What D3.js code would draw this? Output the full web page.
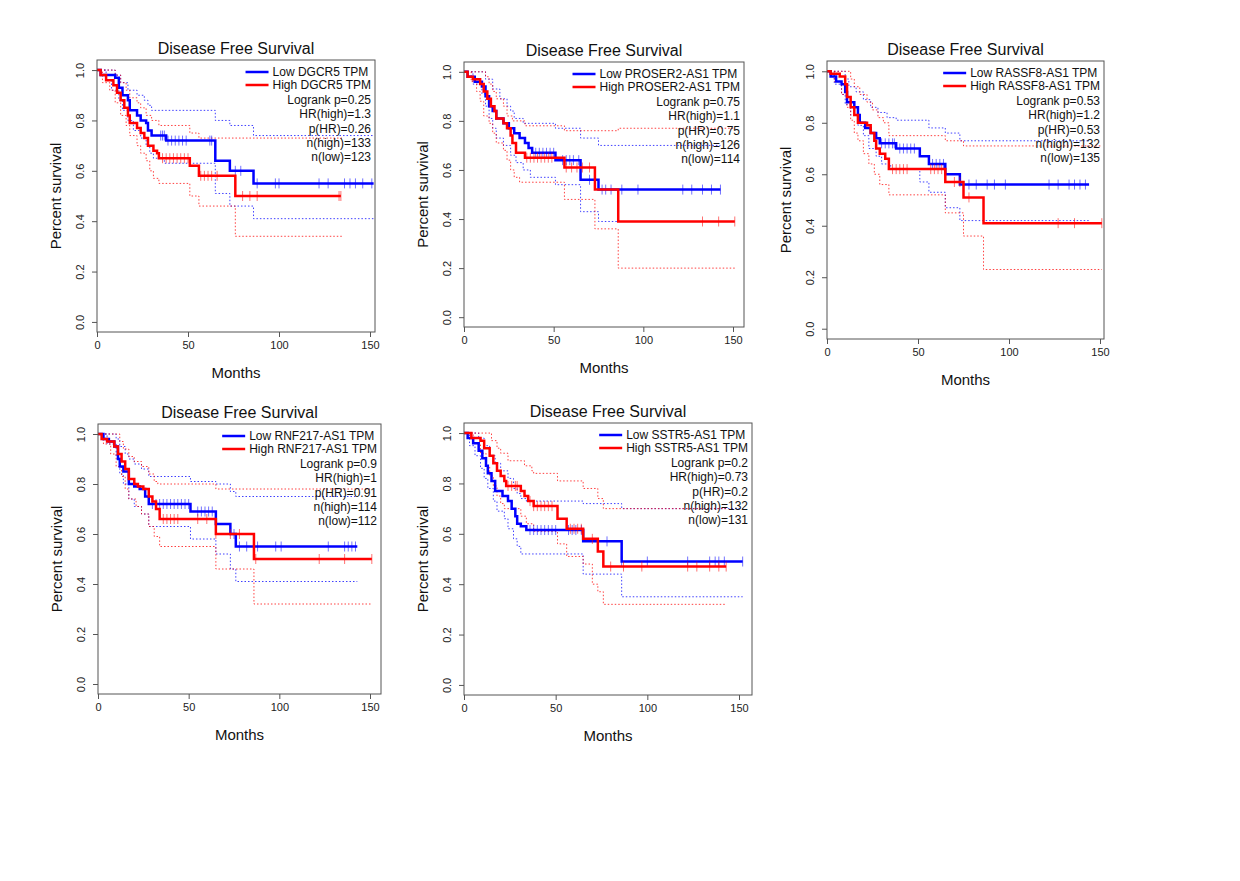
<!DOCTYPE html>
<html lang="en">
<head>
<meta charset="UTF-8">
<script src="https://d3js.org/d3.v7.min.js"></script>
<style>
  html, body { margin: 0; padding: 0; background: #fff; }
  svg { display: block; font-family: "Liberation Sans", Arial, sans-serif; }
</style>
</head>
<body>
<svg id="chart" width="1240" height="881"></svg>
<script>
// each curve: [month, survival] steps, last pair = end of follow-up
const genes = ["DGCR5", "PROSER2-AS1", "RASSF8-AS1", "RNF217-AS1", "SSTR5-AS1"];
const logrankP = ["0.25", "0.75", "0.53", "0.9", "0.2"];
const hrHigh = ["1.3", "1.1", "1.2", "1", "0.73"];
const pHR = ["0.26", "0.75", "0.53", "0.91", "0.2"];
const nHigh = [133, 126, 132, 114, 132];
const nLow = [123, 114, 135, 112, 131];
const xTicks = [0, 50, 100, 150];
const yTicks = [0, 0.2, 0.4, 0.6, 0.8, 1.0];

// DGCR5
const dgcr5Low = [[0,1],[2,0.98],[10,0.97],[12,0.93],[14,0.9],[17,0.88],[18,0.84],[22,0.82],[24,0.8],[27,0.79],[28,0.76],[30,0.74],[38,0.72],[65,0.64],[73,0.6],[86,0.55],[152,0.55]];
const dgcr5LowUp = [[0,1],[10,0.98],[13,0.95],[17,0.92],[22,0.9],[26,0.88],[28,0.86],[30,0.84],[65,0.8],[73,0.78],[86,0.74],[152,0.74]];
const dgcr5LowLo = [[0,1],[5,0.96],[8,0.92],[12,0.88],[14,0.84],[17,0.8],[20,0.76],[24,0.73],[27,0.7],[29,0.67],[31,0.65],[37,0.63],[65,0.51],[73,0.46],[86,0.41],[152,0.41]];
const dgcr5LowCens = [35,36,37,39,41,43,45,47,49,62,63,76,79,88,98,100,122,127,136,139,142,146,151];
const dgcr5High = [[0,1],[2,0.98],[5,0.96],[9,0.94],[11,0.91],[13,0.88],[15,0.85],[17,0.82],[18,0.79],[22,0.77],[24,0.75],[26,0.73],[28,0.7],[31,0.68],[33,0.67],[34,0.65],[51,0.62],[56,0.58],[76,0.5],[134,0.5]];
const dgcr5HighUp = [[0,1],[8,1],[10,0.98],[13,0.95],[16,0.92],[18,0.89],[22,0.87],[24,0.85],[27,0.82],[30,0.8],[34,0.78],[51,0.75],[56,0.73],[135,0.73]];
const dgcr5HighLo = [[0,1],[3,0.95],[7,0.92],[10,0.87],[13,0.82],[16,0.78],[18,0.74],[22,0.7],[24,0.67],[27,0.64],[29,0.6],[31,0.57],[34,0.55],[51,0.5],[56,0.46],[76,0.34],[135,0.34]];
const dgcr5HighCens = [36,38,40,42,44,46,48,50,57,59,61,63,66,80,84,88,133,134];

// PROSER2-AS1
const proserLow = [[0,1],[2,0.98],[6,0.96],[10,0.94],[12,0.9],[14,0.86],[16,0.84],[18,0.81],[22,0.79],[25,0.77],[28,0.75],[31,0.73],[34,0.71],[36,0.69],[38,0.67],[51,0.64],[65,0.56],[75,0.52],[143,0.52]];
const proserLowUp = [[0,1],[8,1],[12,0.97],[16,0.93],[20,0.89],[24,0.86],[26,0.84],[28,0.81],[33,0.79],[51,0.77],[65,0.73],[75,0.7],[143,0.7]];
const proserLowLo = [[0,1],[5,0.95],[10,0.91],[12,0.86],[14,0.81],[16,0.77],[18,0.73],[22,0.7],[26,0.66],[29,0.63],[33,0.6],[37,0.57],[51,0.54],[65,0.43],[75,0.39],[143,0.39]];
const proserLowCens = [40,42,44,46,48,50,55,57,59,61,64,70,77,79,82,88,97,122,127,133,138,143];
const proserHigh = [[0,1],[2,0.98],[5,0.97],[9,0.95],[11,0.92],[13,0.89],[15,0.86],[17,0.84],[18,0.81],[22,0.79],[24,0.77],[26,0.74],[27,0.71],[29,0.67],[34,0.65],[56,0.61],[73,0.52],[86,0.39],[151,0.39]];
const proserHighUp = [[0,1],[10,1],[12,0.98],[14,0.95],[16,0.92],[18,0.89],[22,0.86],[24,0.82],[27,0.8],[34,0.78],[56,0.76],[86,0.77],[151,0.77]];
const proserHighLo = [[0,1],[4,0.96],[7,0.92],[9,0.88],[11,0.82],[14,0.79],[16,0.75],[18,0.71],[22,0.68],[24,0.64],[26,0.6],[28,0.57],[31,0.55],[56,0.48],[73,0.36],[86,0.2],[151,0.2]];
const proserHighCens = [35,37,39,41,43,45,47,49,57,60,63,66,70,133,142,151];

// RASSF8-AS1
const rassfLow = [[0,1],[2,0.98],[5,0.96],[8,0.95],[10,0.92],[11,0.88],[15,0.86],[17,0.83],[18,0.8],[21,0.78],[24,0.76],[27,0.74],[29,0.72],[38,0.7],[51,0.67],[56,0.64],[65,0.6],[73,0.56],[144,0.56]];
const rassfLowUp = [[0,1],[8,1],[10,0.97],[12,0.94],[16,0.92],[20,0.89],[24,0.86],[28,0.84],[33,0.82],[38,0.81],[56,0.78],[65,0.76],[73,0.73],[144,0.73]];
const rassfLowLo = [[0,1],[4,0.95],[8,0.91],[10,0.87],[13,0.83],[17,0.79],[20,0.75],[23,0.7],[27,0.67],[30,0.64],[35,0.62],[51,0.57],[56,0.53],[65,0.47],[73,0.42],[144,0.42]];
const rassfLowCens = [30,32,34,36,37,40,42,44,46,48,58,60,62,64,78,82,88,92,98,122,127,133,136,139,142];
const rassfHigh = [[0,1],[2,0.99],[7,0.98],[10,0.95],[11,0.9],[13,0.86],[15,0.83],[17,0.8],[22,0.79],[24,0.76],[26,0.73],[27,0.7],[29,0.68],[32,0.66],[34,0.62],[65,0.57],[75,0.51],[86,0.41],[151,0.41]];
const rassfHighUp = [[0,1],[10,1],[13,0.97],[15,0.94],[18,0.91],[22,0.88],[25,0.85],[28,0.82],[31,0.8],[34,0.75],[65,0.73],[75,0.71],[151,0.71]];
const rassfHighLo = [[0,1],[4,0.96],[8,0.91],[11,0.86],[13,0.81],[15,0.76],[17,0.73],[20,0.68],[23,0.64],[26,0.6],[29,0.56],[34,0.52],[65,0.45],[75,0.36],[86,0.23],[151,0.23]];
const rassfHighCens = [36,38,40,42,44,57,59,61,63,70,73,78,127,136,151];

// RNF217-AS1
const rnfLow = [[0,1],[3,0.98],[6,0.97],[9,0.95],[11,0.9],[12,0.87],[14,0.85],[17,0.8],[20,0.79],[23,0.78],[26,0.75],[28,0.72],[51,0.69],[65,0.64],[73,0.6],[76,0.55],[143,0.55]];
const rnfLowUp = [[0,1],[7,1],[10,0.98],[12,0.95],[15,0.92],[17,0.9],[20,0.88],[24,0.86],[28,0.83],[51,0.81],[65,0.8],[73,0.77],[76,0.75],[143,0.75]];
const rnfLowLo = [[0,1],[5,0.96],[10,0.91],[12,0.84],[14,0.8],[17,0.74],[20,0.71],[24,0.68],[28,0.63],[51,0.58],[65,0.52],[73,0.46],[76,0.41],[143,0.41]];
const rnfLowCens = [30,32,34,36,38,40,42,44,46,48,50,55,57,59,61,63,75,78,82,88,98,101,127,136,138,140,142];
const rnfHigh = [[0,1],[2,0.98],[5,0.97],[9,0.95],[11,0.92],[13,0.89],[15,0.86],[17,0.82],[20,0.8],[22,0.79],[25,0.78],[28,0.75],[30,0.73],[32,0.7],[34,0.66],[65,0.6],[86,0.5],[151,0.5]];
const rnfHighUp = [[0,1],[10,1],[12,0.97],[14,0.94],[17,0.91],[20,0.89],[24,0.87],[28,0.84],[31,0.81],[33,0.8],[65,0.78],[151,0.78]];
const rnfHighLo = [[0,1],[3,0.96],[7,0.92],[10,0.87],[13,0.83],[15,0.78],[17,0.74],[21,0.71],[24,0.68],[28,0.63],[31,0.59],[34,0.55],[65,0.46],[86,0.32],[151,0.32]];
const rnfHighCens = [36,38,40,42,44,55,60,65,73,78,87,122,136,151];

// SSTR5-AS1
const sstrLow = [[0,1],[2,0.98],[5,0.96],[8,0.93],[10,0.9],[12,0.87],[13,0.84],[15,0.81],[17,0.77],[21,0.75],[24,0.73],[26,0.7],[28,0.67],[29,0.64],[31,0.63],[34,0.615],[65,0.57],[86,0.49],[152,0.49]];
const sstrLowUp = [[0,1],[6,1],[8,0.98],[11,0.95],[14,0.91],[17,0.88],[20,0.85],[24,0.82],[27,0.78],[29,0.76],[31,0.74],[34,0.73],[65,0.72],[86,0.7],[152,0.7]];
const sstrLowLo = [[0,1],[3,0.95],[6,0.91],[9,0.86],[11,0.82],[13,0.78],[16,0.73],[18,0.69],[22,0.66],[24,0.62],[27,0.58],[29,0.55],[31,0.52],[65,0.44],[86,0.35],[152,0.35]];
const sstrLowCens = [36,38,40,42,44,46,48,50,57,59,61,64,78,86,100,122,134,137,139,142,152];
const sstrHigh = [[0,1],[4,0.98],[9,0.97],[11,0.94],[14,0.91],[16,0.88],[18,0.85],[20,0.83],[22,0.81],[23,0.79],[31,0.77],[33,0.75],[35,0.73],[38,0.71],[51,0.66],[56,0.62],[65,0.58],[73,0.53],[76,0.47],[143,0.47]];
const sstrHighUp = [[0,1],[12,1],[15,0.97],[18,0.94],[20,0.92],[24,0.89],[33,0.87],[37,0.85],[38,0.84],[51,0.81],[65,0.78],[73,0.74],[76,0.7],[143,0.7]];
const sstrHighLo = [[0,1],[5,0.96],[9,0.92],[12,0.87],[14,0.83],[16,0.79],[18,0.75],[20,0.72],[22,0.7],[31,0.67],[34,0.64],[38,0.61],[51,0.56],[56,0.51],[65,0.48],[70,0.4],[73,0.37],[76,0.32],[143,0.32]];
const sstrHighCens = [24,26,28,29,36,38,40,42,44,46,48,58,60,62,64,70,80,87,97,122,127,134,139,143];

const lows = [dgcr5Low, proserLow, rassfLow, rnfLow, sstrLow];
const lowUps = [dgcr5LowUp, proserLowUp, rassfLowUp, rnfLowUp, sstrLowUp];
const lowLos = [dgcr5LowLo, proserLowLo, rassfLowLo, rnfLowLo, sstrLowLo];
const lowCens = [dgcr5LowCens, proserLowCens, rassfLowCens, rnfLowCens, sstrLowCens];
const highs = [dgcr5High, proserHigh, rassfHigh, rnfHigh, sstrHigh];
const highUps = [dgcr5HighUp, proserHighUp, rassfHighUp, rnfHighUp, sstrHighUp];
const highLos = [dgcr5HighLo, proserHighLo, rassfHighLo, rnfHighLo, sstrHighLo];
const highCens = [dgcr5HighCens, proserHighCens, rassfHighCens, rnfHighCens, sstrHighCens];

// plot box placement (pixels)
const boxes = [
  {l: 97, r: 375, t: 60, b: 332, x150: 370},
  {l: 464, r: 744, t: 62, b: 327, x150: 733},
  {l: 827, r: 1104, t: 61, b: 339, x150: 1100},
  {l: 98, r: 381, t: 424, b: 694, x150: 370},
  {l: 464, r: 752, t: 423, b: 695, x150: 739}
];

const svg = d3.select('#chart');
const BLUE = '#0000ff', RED = '#ff0000';

function stepAt(curve, t) {
  let v = curve[0][1];
  for (const p of curve) { if (p[0] <= t) v = p[1]; }
  return v;
}

boxes.forEach((bx, i) => {
  const x = d3.scaleLinear().domain([0, 150]).range([bx.l, bx.x150]);
  const h = bx.b - bx.t;
  const pad = h * 0.04 / 1.08;
  const y = d3.scaleLinear().domain([0, 1]).range([bx.b - pad, bx.t + pad]);
  const g = svg.append('g');

  const line = d3.line().x(d => x(d[0])).y(d => y(d[1])).curve(d3.curveStepAfter);

  // confidence bands
  [[lowUps[i], BLUE], [lowLos[i], BLUE], [highUps[i], RED], [highLos[i], RED]].forEach(([c, col]) => {
    g.append('path').attr('d', line(c)).attr('fill', 'none')
      .attr('stroke', col).attr('stroke-width', 1).attr('stroke-dasharray', '1.5,2').attr('opacity', 0.75);
  });

  // survival curves
  [[lows[i], lowCens[i], BLUE], [highs[i], highCens[i], RED]].forEach(([c, cens, col]) => {
    g.append('path').attr('d', line(c)).attr('fill', 'none')
      .attr('stroke', col).attr('stroke-width', 2.5);
    g.selectAll(null).data(cens).enter().append('line')
      .attr('x1', d => x(d)).attr('x2', d => x(d))
      .attr('y1', d => y(stepAt(c, d)) - 5).attr('y2', d => y(stepAt(c, d)) + 5)
      .attr('stroke', col).attr('stroke-width', 1).attr('opacity', 0.55);
  });

  // box
  g.append('rect').attr('x', bx.l).attr('y', bx.t).attr('width', bx.r - bx.l).attr('height', h)
    .attr('fill', 'none').attr('stroke', '#555').attr('stroke-width', 1);

  // axes
  const xa = g.append('g').attr('transform', `translate(0,${bx.b})`)
    .call(d3.axisBottom(x).tickValues(xTicks).tickSize(5).tickPadding(4));
  const ya = g.append('g').attr('transform', `translate(${bx.l},0)`)
    .call(d3.axisLeft(y).tickValues(yTicks).tickFormat(d3.format('.1f')).tickSize(5).tickPadding(4));
  [xa, ya].forEach(a => {
    a.select('.domain').remove();
    a.selectAll('line').attr('stroke', '#555');
    a.selectAll('text').attr('font-size', 11).attr('fill', '#222').attr('font-family', 'Liberation Sans, Arial');
  });
  ya.selectAll('text').attr('text-anchor', 'middle').attr('dy', 0)
    .attr('transform', function () {
      const t = d3.select(this);
      return `rotate(-90, ${t.attr('x')}, 0)`;
    }).attr('x', -13).attr('y', 0)
    .each(function (d) { d3.select(this).attr('transform', `translate(0,${y(d) - y(d)}) rotate(-90,-13,0)`).attr('dy', '0.35em'); });
  ya.selectAll('.tick text').attr('transform', 'rotate(-90) ').attr('x', 0).attr('y', -13).attr('dy', 0);

  // titles
  const cx = (bx.l + bx.r) / 2;
  g.append('text').attr('x', cx).attr('y', bx.t - 6).attr('text-anchor', 'middle')
    .attr('font-size', 16).attr('fill', '#111').text('Disease Free Survival');
  g.append('text').attr('x', cx).attr('y', bx.b + 46).attr('text-anchor', 'middle')
    .attr('font-size', 15).attr('fill', '#111').text('Months');
  g.append('text').attr('transform', `translate(${bx.l - 36},${(bx.t + bx.b) / 2}) rotate(-90)`)
    .attr('text-anchor', 'middle').attr('font-size', 15).attr('fill', '#111').text('Percent survival');

  // legend
  const rx = bx.r - 4;
  const hi = g.append('text').attr('x', rx).attr('y', bx.t + 29).attr('text-anchor', 'end')
    .attr('font-size', 12).attr('fill', '#111').text(`High ${genes[i]} TPM`);
  const tx = rx - hi.node().getComputedTextLength();
  g.append('text').attr('x', tx).attr('y', bx.t + 16).attr('font-size', 12).attr('fill', '#111')
    .text(`Low ${genes[i]} TPM`);
  [[bx.t + 12, BLUE], [bx.t + 25, RED]].forEach(([ly, col]) => {
    g.append('line').attr('x1', tx - 27).attr('x2', tx - 4).attr('y1', ly).attr('y2', ly)
      .attr('stroke', col).attr('stroke-width', 2.5);
  });
  const stats = [`Logrank p=${logrankP[i]}`, `HR(high)=${hrHigh[i]}`, `p(HR)=${pHR[i]}`,
    `n(high)=${nHigh[i]}`, `n(low)=${nLow[i]}`];
  g.selectAll(null).data(stats).enter().append('text')
    .attr('x', rx).attr('y', (d, k) => bx.t + 44 + k * 14.3).attr('text-anchor', 'end')
    .attr('font-size', 12).attr('fill', '#111').text(d => d);
});
</script>
</body>
</html>
